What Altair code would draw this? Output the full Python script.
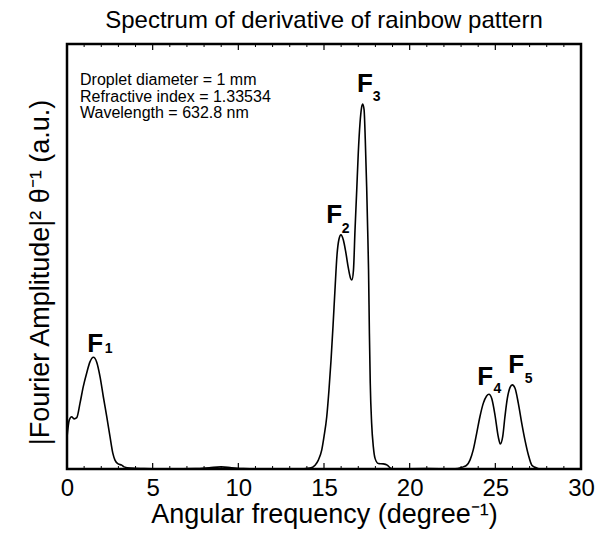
import altair as alt
import pandas as pd

# Curve: angular frequency (degree^-1) vs spectrum amplitude (a.u., 0..1 of axis)
freq = [0.00, 0.13, 0.27, 0.41, 0.57, 0.76, 0.95, 1.15, 1.34, 1.54, 1.73, 1.93,
        2.12, 2.32, 2.51, 2.67, 2.80, 2.99, 3.19, 3.33, 3.70, 4.5, 6.0, 7.5,
        8.3, 9.0, 9.6, 10.3, 12.0, 13.5,
        14.18, 14.48, 14.67, 14.87, 15.00, 15.16, 15.29, 15.41, 15.53, 15.64,
        15.76, 15.87, 15.99, 16.13, 16.28, 16.42, 16.55, 16.63, 16.72, 16.81,
        16.91, 17.00, 17.10, 17.20, 17.26, 17.34, 17.41, 17.49, 17.55, 17.60,
        17.65, 17.70, 17.78, 17.88, 17.98, 18.17, 18.46, 18.69, 18.89, 19.20,
        21.0, 22.5,
        23.13, 23.33, 23.52, 23.71, 23.91, 24.10, 24.30, 24.49, 24.63, 24.79,
        24.98, 25.17, 25.29, 25.43, 25.56, 25.70, 25.86, 25.99, 26.15, 26.34,
        26.54, 26.73, 26.93, 27.13, 27.32, 27.60, 30.0]
amp = [0.075, 0.115, 0.123, 0.118, 0.121, 0.155, 0.194, 0.226, 0.252, 0.263, 0.252, 0.217,
       0.170, 0.123, 0.076, 0.038, 0.021, 0.012, 0.009, 0.005, 0.002, 0.001, 0.0, 0.001,
       0.003, 0.005, 0.003, 0.001, 0.0, 0.0,
       0.002, 0.009, 0.021, 0.045, 0.076, 0.123, 0.186, 0.256, 0.339, 0.421,
       0.504, 0.540, 0.551, 0.539, 0.508, 0.473, 0.449, 0.445, 0.468, 0.562,
       0.656, 0.743, 0.813, 0.852, 0.859, 0.845, 0.774, 0.664, 0.562, 0.468,
       0.319, 0.202, 0.108, 0.052, 0.025, 0.013, 0.012, 0.009, 0.002, 0.0,
       0.001, 0.0,
       0.005, 0.009, 0.021, 0.045, 0.084, 0.123, 0.155, 0.172, 0.176, 0.166,
       0.127, 0.076, 0.059, 0.076, 0.123, 0.166, 0.192, 0.198, 0.190, 0.155,
       0.108, 0.068, 0.033, 0.009, 0.004, 0.0, 0.0]

# Peak labels F1..F5
peak_letter = ["F", "F", "F", "F", "F"]
peak_x = [1.18, 15.13, 16.93, 23.94, 25.75]
peak_y = [0.275, 0.579, 0.887, 0.198, 0.226]
sub_text = ["1", "2", "3", "4", "5"]
sub_x = [2.20, 16.03, 17.84, 24.90, 26.71]
sub_y = [0.273, 0.555, 0.865, 0.179, 0.202]

note_lines = ["Droplet diameter = 1 mm", "Refractive index = 1.33534", "Wavelength = 632.8 nm"]

x_tick_values = [0, 5, 10, 15, 20, 25, 30]
minor_ticks = [i for i in range(1, 30) if i % 5 != 0]
major_ticks = [5, 10, 15, 20, 25]

FONT = "Liberation Sans"
W, H = 514, 425

curve = pd.DataFrame({"x": freq, "y": amp})
labels = pd.DataFrame({"x": peak_x, "y": peak_y, "t": peak_letter})
subs = pd.DataFrame({"x": sub_x, "y": sub_y, "t": sub_text})
minor_df = pd.DataFrame({"x": minor_ticks})
major_df = pd.DataFrame({"x": major_ticks})

xscale = alt.Scale(domain=[0, 30], nice=False, zero=False)
yscale = alt.Scale(domain=[0, 1], nice=False, zero=False)

x_axis = alt.Axis(values=x_tick_values, format="d", ticks=False, tickSize=0, domain=False, grid=False,
                  labelFontSize=24, labelFont=FONT, labelColor="black", labelPadding=7,
                  labelFlush=False, labelOverlap=False,
                  title="Angular frequency (degree⁻¹)", titleFontSize=27, titleFont=FONT,
                  titleFontWeight="normal", titleColor="black", titleBaseline="alphabetic",
                  titleAlign="center", titleX=W / 2, titleY=53)
y_axis = alt.Axis(labels=False, ticks=False, tickSize=0, domain=False, grid=False,
                  title="|Fourier Amplitude|² θ⁻¹ (a.u.)", titleFontSize=27, titleFont=FONT,
                  titleFontWeight="normal", titleColor="black", titleBaseline="alphabetic",
                  titleAlign="center", titleAngle=270, titleX=-19, titleY=228)

x_enc = alt.X("x:Q", scale=xscale, axis=x_axis)
y_enc = alt.Y("y:Q", scale=yscale, axis=y_axis)

line = alt.Chart(curve).mark_line(color="black", strokeWidth=1.6, interpolate="monotone", clip=True).encode(
    x=x_enc, y=y_enc)

minor_bot = alt.Chart(minor_df).mark_rule(color="black", strokeWidth=1).encode(
    x=x_enc, y=alt.value(H), y2=alt.value(H - 3))
major_bot = alt.Chart(major_df).mark_rule(color="black", strokeWidth=1.2).encode(
    x=x_enc, y=alt.value(H), y2=alt.value(H - 6))
minor_top = alt.Chart(minor_df).mark_rule(color="black", strokeWidth=1).encode(
    x=x_enc, y=alt.value(0), y2=alt.value(3))
major_top = alt.Chart(major_df).mark_rule(color="black", strokeWidth=1.2).encode(
    x=x_enc, y=alt.value(0), y2=alt.value(6))

f_text = alt.Chart(labels).mark_text(font=FONT, fontSize=26, fontWeight="bold", align="left",
                                     baseline="alphabetic", color="black").encode(
    x=x_enc, y=y_enc, text="t:N")
sub_marks = alt.Chart(subs).mark_text(font=FONT, fontSize=14, fontWeight="bold", align="left",
                                      baseline="alphabetic", color="black").encode(
    x=x_enc, y=y_enc, text="t:N")

note = alt.Chart(pd.DataFrame({"k": [0]})).mark_text(
    text=note_lines, font=FONT, fontSize=16, align="left", baseline="alphabetic",
    lineHeight=16.5, color="black").encode(x=alt.value(13), y=alt.value(41))

chart = alt.layer(line, minor_bot, major_bot, minor_top, major_top, f_text, sub_marks, note).properties(
    width=W, height=H,
    title=alt.TitleParams(text="Spectrum of derivative of rainbow pattern", fontSize=24, font=FONT,
                          fontWeight="normal", color="black", anchor="middle", offset=10),
    autosize=alt.AutoSizeParams(type="none"),
    padding={"left": 67, "top": 44, "right": 14, "bottom": 69},
    background="white",
).configure_view(stroke="black", strokeWidth=2.5)

chart.save("out.html", embed_options={"renderer": "svg", "actions": False})
